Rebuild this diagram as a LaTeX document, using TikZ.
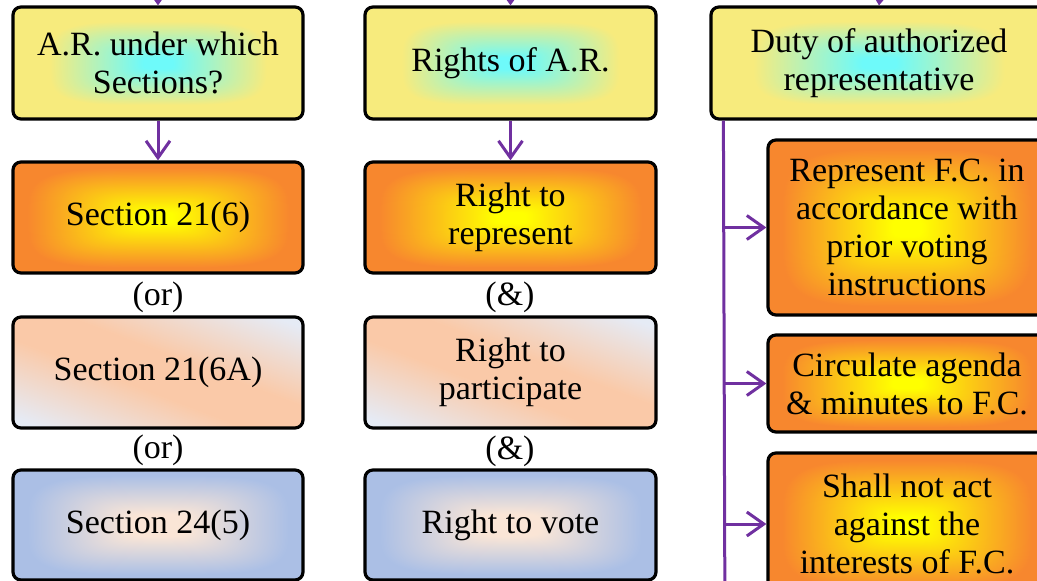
\documentclass[tikz,border=0pt]{standalone}
\usepackage{fontspec}
\setmainfont{Liberation Serif}
\usetikzlibrary{arrows.meta,calc}

% Path-style gradients: the box is mapped onto [-25bp,25bp]^2 of the shading;
% contours are rounded rectangles (4-norm of the normalised position)
\pgfdeclarefunctionalshading{askshade}{\pgfpoint{-50bp}{-50bp}}{\pgfpoint{50bp}{50bp}}{}{
  abs 25 div exch abs 25 div
  dup mul dup mul exch dup mul dup mul add sqrt sqrt
  0.1 sub 0.65 div dup 0 lt {pop 0} if dup 1 gt {pop 1} if
  dup 0.54 mul 0.43 add exch dup -0.06 mul 0.98 add exch -0.49 mul 0.98 add
}
\pgfdeclarefunctionalshading{flameshade}{\pgfpoint{-50bp}{-50bp}}{\pgfpoint{50bp}{50bp}}{}{
  abs 25 div exch abs 25 div
  dup mul dup mul exch dup mul dup mul add sqrt sqrt
  0.1 sub 0.8 div dup 0 lt {pop 0} if dup 1 gt {pop 1} if
  dup -0.03 mul 1 add exch dup -0.47 mul 1 add exch 0.18 mul 0 add
}
\pgfdeclarefunctionalshading{skyshade}{\pgfpoint{-50bp}{-50bp}}{\pgfpoint{50bp}{50bp}}{}{
  abs 25 div exch abs 25 div
  dup mul dup mul exch dup mul dup mul add sqrt sqrt
  0.2 sub 0.7 div dup 0 lt {pop 0} if dup 1 gt {pop 1} if
  dup -0.31 mul 0.98 add exch dup -0.15 mul 0.90 add exch 0.06 mul 0.84 add
}
% Diagonal band: peach along the top-left/bottom-right diagonal, grey-lilac at the other corners
\pgfdeclarefunctionalshading{peachshade}{\pgfpoint{-50bp}{-50bp}}{\pgfpoint{50bp}{50bp}}{}{
  add abs 50 div 0.2 sub 0.7 div dup 0 lt {pop 0} if dup 1 gt {pop 1} if
  dup -0.08 mul 0.98 add exch dup 0.13 mul 0.79 add exch 0.30 mul 0.66 add
}

\definecolor{flow}{RGB}{112,48,160}

\tikzset{
  box/.style={draw=black, line width=3.2pt, rounded corners=8pt, inner sep=0pt,
    align=center, font=\fontsize{34}{38}\selectfont, text=black},
  askbox/.style={box, shading=askshade},
  flamebox/.style={box, shading=flameshade},
  peachbox/.style={box, shading=peachshade},
  skybox/.style={box, shading=skyshade},
  joiner/.style={font=\fontsize{34}{38}\selectfont, inner sep=0pt},
  flowline/.style={draw=flow, line width=3pt},
  flowarrow/.style={flowline, -{Straight Barb[length=17pt,width=24pt,line width=3pt]}}
}

\begin{document}
\begin{tikzpicture}[x=1pt, y=-1pt]
  \useasboundingbox (0,0) rectangle (1037,581);
  \clip (0,0) rectangle (1037,581);

  % headings
  \node[askbox, minimum width=290pt, minimum height=112pt] (q1) at (158,63) {A.R. under which\\Sections?};
  \node[askbox, minimum width=291pt, minimum height=112pt] (q2) at (510.5,63) {Rights of A.R.};
  \node[askbox, minimum width=336pt, minimum height=112pt] (q3) at (879,63) {Duty of authorized\\representative};

  % sections
  \node[flamebox, minimum width=290pt, minimum height=111pt] (s1) at (158,217.5) {Section 21(6)};
  \node[peachbox, minimum width=290pt, minimum height=111pt] (s2) at (158,372.5) {Section 21(6A)};
  \node[skybox,   minimum width=290pt, minimum height=110pt] (s3) at (158,525) {Section 24(5)};
  \node[joiner] (or1) at (158,297) {(or)};
  \node[joiner] (or2) at (158,450) {(or)};

  % rights
  \node[flamebox, minimum width=291pt, minimum height=111pt] (r1) at (510.5,217.5) {Right to\\represent};
  \node[peachbox, minimum width=291pt, minimum height=111pt] (r2) at (510.5,372.5) {Right to\\participate};
  \node[skybox,   minimum width=291pt, minimum height=110pt] (r3) at (510.5,525) {Right to vote};
  \node[joiner] (and1) at (510,297) {(\&)};
  \node[joiner] (and2) at (510,451) {(\&)};

  % duties
  \node[flamebox, minimum width=278pt, minimum height=175pt] (d1) at (907,227.5) {Represent F.C. in\\accordance with\\prior voting\\instructions};
  \node[flamebox, minimum width=278pt, minimum height=97pt] (d2) at (907,383.5) {Circulate agenda\\\& minutes to F.C.};
  \node[flamebox, minimum width=278pt, minimum height=142pt] (d3) at (907,524) {Shall not act\\against the\\interests of F.C.};

  % incoming arrows from above
  \coordinate (in1) at (158,-40);
  \coordinate (in2) at (510.5,-40);
  \coordinate (in3) at (883,-40);
  \draw[flowarrow] (in1) -- (q1.north);
  \draw[flowarrow] (in2) -- (q2.north);
  \draw[flowarrow] (in3) -- (q3.north);

  % heading to first item
  \draw[flowarrow] (q1.south) -- (s1.north);
  \draw[flowarrow] (q2.south) -- (r1.north);

  % duty trunk with branches
  \coordinate (trunktop) at ($(q3.south west)+(14,0)$);
  \coordinate (trunkend) at (725,640);
  \draw[flowline] (trunktop) -- (trunkend);
  \draw[flowarrow] (trunktop |- d1.west) -- (d1.west);
  \draw[flowarrow] (trunktop |- d2.west) -- (d2.west);
  \draw[flowarrow] (trunktop |- d3.west) -- (d3.west);
\end{tikzpicture}
\end{document}
